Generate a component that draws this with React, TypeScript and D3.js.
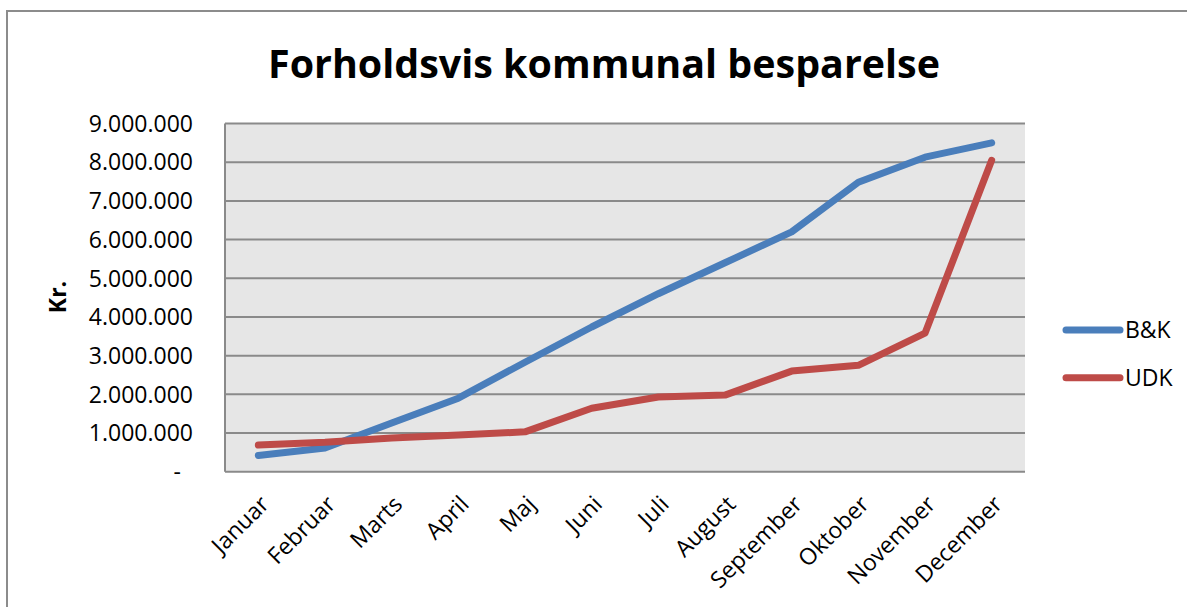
import React, { useEffect, useRef } from 'react';
import * as d3 from 'd3';

const months = ['Januar', 'Februar', 'Marts', 'April', 'Maj', 'Juni', 'Juli', 'August', 'September', 'Oktober', 'November', 'December'];
const bkValues = [420000, 610000, 1260000, 1900000, 2830000, 3740000, 4600000, 5400000, 6200000, 7480000, 8130000, 8500000];
const udkValues = [690000, 760000, 870000, 950000, 1030000, 1640000, 1930000, 1980000, 2600000, 2750000, 3580000, 8050000];
const yTicks = [0, 1000000, 2000000, 3000000, 4000000, 5000000, 6000000, 7000000, 8000000, 9000000];

const series = [
  { name: 'B&K', values: bkValues, color: '#4a7ebb' },
  { name: 'UDK', values: udkValues, color: '#be4b48' },
];

const W = 1187;
const H = 607;
const FONT = '"Open Sans", sans-serif';

export default function App() {
  const svgRef = useRef<SVGSVGElement>(null);

  useEffect(() => {
    if (!svgRef.current) return;
    const svg = d3.select(svgRef.current);
    svg.selectAll('*').remove();

    const plot = { left: 225, right: 1025, top: 123.5, bottom: 471.7 };

    // outer chart frame
    svg.append('rect')
      .attr('x', 7).attr('y', 11)
      .attr('width', 1300).attr('height', 800)
      .attr('fill', 'white')
      .attr('stroke', '#8c8c8c')
      .attr('stroke-width', 2);

    const x = d3.scaleBand<string>()
      .domain(months)
      .range([plot.left, plot.right]);

    const y = d3.scaleLinear()
      .domain([0, 9000000])
      .range([plot.bottom, plot.top]);

    const fmt = d3.formatLocale({ decimal: ',', thousands: '.', grouping: [3], currency: ['', ' kr'] }).format(',d');

    // plot background
    svg.append('rect')
      .attr('x', plot.left).attr('y', plot.top)
      .attr('width', plot.right - plot.left)
      .attr('height', plot.bottom - plot.top)
      .attr('fill', '#e6e6e6');

    // gridlines
    svg.append('g')
      .selectAll('line')
      .data(yTicks)
      .join('line')
      .attr('x1', plot.left).attr('x2', plot.right)
      .attr('y1', d => y(d)).attr('y2', d => y(d))
      .attr('stroke', '#8a8a8a')
      .attr('stroke-width', 2);

    // left axis line
    svg.append('line')
      .attr('x1', plot.left).attr('x2', plot.left)
      .attr('y1', plot.top).attr('y2', plot.bottom)
      .attr('stroke', '#8a8a8a')
      .attr('stroke-width', 2);

    // y tick labels
    svg.append('g')
      .selectAll('text')
      .data(yTicks)
      .join('text')
      .attr('x', d => (d === 0 ? 181 : 193))
      .attr('y', d => y(d))
      .attr('dy', '0.36em')
      .attr('text-anchor', 'end')
      .attr('font-family', FONT)
      .attr('font-size', 23)
      .attr('fill', '#000')
      .text(d => (d === 0 ? '-' : fmt(d)));

    // x tick labels
    svg.append('g')
      .selectAll('text')
      .data(months)
      .join('text')
      .attr('transform', d => `translate(${x(d)! + x.bandwidth() / 2 + 12},${plot.bottom + 34}) rotate(-45)`)
      .attr('text-anchor', 'end')
      .attr('font-family', FONT)
      .attr('font-size', 23)
      .attr('fill', '#000')
      .text(d => d);

    // lines
    const line = d3.line<number>()
      .x((_, i) => x(months[i])! + x.bandwidth() / 2)
      .y(d => y(d));

    series.forEach(s => {
      svg.append('path')
        .datum(s.values)
        .attr('fill', 'none')
        .attr('stroke', s.color)
        .attr('stroke-width', 7)
        .attr('stroke-linejoin', 'round')
        .attr('stroke-linecap', 'round')
        .attr('d', line);
    });

    // title
    svg.append('text')
      .attr('x', 604)
      .attr('y', 78)
      .attr('text-anchor', 'middle')
      .attr('font-family', FONT)
      .attr('font-weight', 'bold')
      .attr('font-size', 39)
      .attr('textLength', 672)
      .attr('lengthAdjust', 'spacingAndGlyphs')
      .attr('fill', '#000')
      .text('Forholdsvis kommunal besparelse');

    // y axis title
    svg.append('text')
      .attr('transform', 'translate(66,297) rotate(-90)')
      .attr('text-anchor', 'middle')
      .attr('font-family', FONT)
      .attr('font-weight', 'bold')
      .attr('font-size', 23)
      .attr('fill', '#000')
      .text('Kr.');

    // legend
    const legend = svg.append('g');
    series.forEach((s, i) => {
      const ly = 330 + i * 47.7;
      legend.append('line')
        .attr('x1', 1066).attr('x2', 1120)
        .attr('y1', ly).attr('y2', ly)
        .attr('stroke', s.color)
        .attr('stroke-width', 7)
        .attr('stroke-linecap', 'round');
      legend.append('text')
        .attr('x', 1125)
        .attr('y', ly)
        .attr('dy', '0.36em')
        .attr('font-family', FONT)
        .attr('font-size', 23)
        .attr('fill', '#000')
        .text(s.name);
    });
  }, []);

  return (
    <svg
      ref={svgRef}
      width={W}
      height={H}
      style={{ position: 'absolute', left: 0, top: 0, background: 'white' }}
    />
  );
}
